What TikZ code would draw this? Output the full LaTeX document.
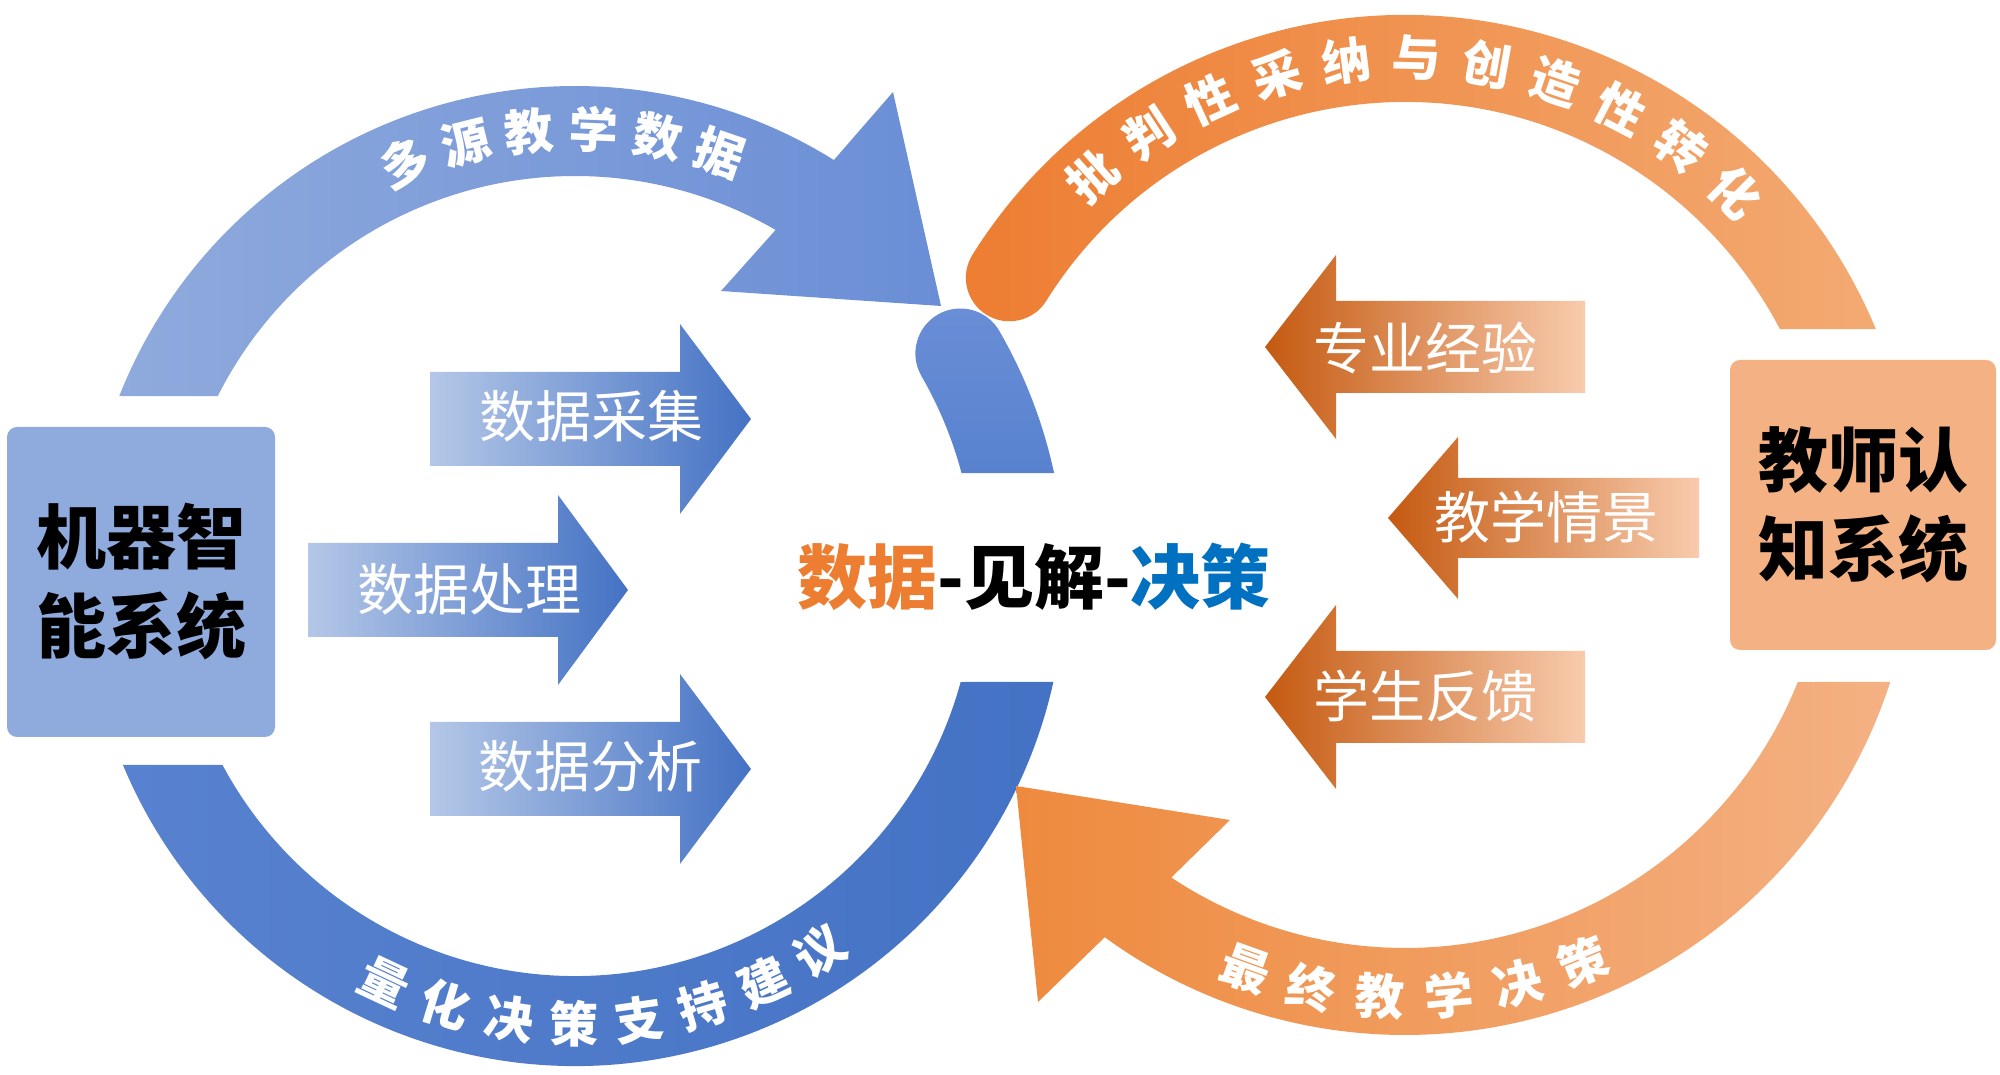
\documentclass[tikz,border=0pt]{standalone}
\usepackage{fontspec}
\setmainfont{Noto Sans CJK SC}
\usetikzlibrary{calc}
\definecolor{boxblue}{HTML}{8FAADC}
\definecolor{boxorange}{HTML}{F4B183}
\definecolor{bluA}{HTML}{8FAADC}
\definecolor{bluB}{HTML}{6A8ED6}
\definecolor{bluC}{HTML}{5882CF}
\definecolor{bluD}{HTML}{4472C4}
\definecolor{oraA}{HTML}{ED7D31}
\definecolor{oraB}{HTML}{F3AA72}
\definecolor{oraC}{HTML}{EE8A3E}
\definecolor{oraD}{HTML}{F4B183}
\definecolor{lblue}{HTML}{B4C7E7}
\definecolor{dorange}{HTML}{C55A11}
\definecolor{lpeach}{HTML}{F8CBAD}
\definecolor{ttlorange}{HTML}{ED7D31}
\definecolor{ttlblue}{HTML}{0070C0}
\begin{document}
\begin{tikzpicture}[x=1pt,y=1pt,
  arctext/.style={text=white,font=\fontsize{49}{49}\selectfont\bfseries,inner sep=0pt},
  arrtext/.style={text=white,font=\fontsize{56}{56}\selectfont,inner sep=0pt},
  sysbox/.style={rounded corners=10pt,align=center,font=\fontsize{70}{89}\selectfont\bfseries,text=black},
  blueflow/.style={left color=lblue,right color=bluD},
  orangeflow/.style={left color=dorange,right color=lpeach}]
\useasboundingbox (0,0) rectangle (2000,1075);
\coordinate (Cb) at (575,499);
\coordinate (Co) at (1405,550);

% blue upper arc with head
\shade[left color=bluA,right color=bluB]
  ([shift={(158.45:490pt)}]Cb) arc[start angle=158.45,end angle=58.1,radius=490pt]
  -- (893,983) -- (941,769) -- (721,784)
  -- ([shift={(59.9:400pt)}]Cb) arc[start angle=59.9,end angle=153.26,radius=400pt] -- cycle;
% blue lower arc
\shade[left color=bluC,right color=bluD]
  ([shift={(202.69:490pt)}]Cb) arc[start angle=202.69,end angle=347.51,radius=490pt]
  -- ([shift={(344.63:400pt)}]Cb) arc[start angle=344.63,end angle=208.2,radius=400pt] -- cycle;
% blue right piece
\shade[top color=bluB,bottom color=bluC]
  ([shift={(12.13:490pt)}]Cb) arc[start angle=12.13,end angle=30,radius=490pt]
  arc[start angle=30,end angle=210,radius=45pt]
  arc[start angle=30,end angle=14.92,radius=400pt] -- cycle;

% orange upper arc
\shade[left color=oraA,right color=oraB]
  ([shift={(22.6:510pt)}]Co) arc[start angle=22.6,end angle=148,radius=510pt]
  arc[start angle=148,end angle=328,radius=43.5pt]
  arc[start angle=148,end angle=27.6,radius=423pt] -- cycle;
% orange lower arc with head
\shade[left color=oraC,right color=oraD]
  ([shift={(342.07:510pt)}]Co) arc[start angle=342.07,end angle=233.93,radius=510pt]
  -- (1038,73) -- (1016,289) -- (1230,255)
  -- ([shift={(236.46:423pt)}]Co) arc[start angle=236.46,end angle=338.21,radius=423pt] -- cycle;

% straight blue arrows
\shade[blueflow] (430,703) -- (680,703) -- (680,751) -- (751,656) -- (680,561) -- (680,609) -- (430,609) -- cycle;
\shade[blueflow] (308,532) -- (558,532) -- (558,580) -- (628,485) -- (558,390) -- (558,438) -- (308,438) -- cycle;
\shade[blueflow] (430,353) -- (680,353) -- (680,401) -- (751,306) -- (680,211) -- (680,259) -- (430,259) -- cycle;
% straight orange arrows
\shade[orangeflow] (1585,774) -- (1336,774) -- (1336,820) -- (1265,728) -- (1336,636) -- (1336,682) -- (1585,682) -- cycle;
\shade[orangeflow] (1699,597) -- (1458,597) -- (1458,638) -- (1388,557) -- (1458,476) -- (1458,517) -- (1699,517) -- cycle;
\shade[orangeflow] (1585,424) -- (1336,424) -- (1336,470) -- (1265,378) -- (1336,286) -- (1336,332) -- (1585,332) -- cycle;

\node[arrtext] (t1) at (591,659) {数据采集};
\node[arrtext] (t2) at (469,486) {数据处理};
\node[arrtext] (t3) at (590,309) {数据分析};
\node[arrtext] (t4) at (1425,727) {专业经验};
\node[arrtext] (t5) at (1546,558) {教学情景};
\node[arrtext] (t6) at (1425,379) {学生反馈};

% boxes
\node[sysbox,fill=boxblue,minimum width=268pt,minimum height=310pt] (mis) at (141,493) {机器智\\能系统};
\node[sysbox,fill=boxorange,minimum width=266pt,minimum height=290pt] (tcs) at (1863,570) {教师认\\知系统};

% title
\node[font=\fontsize{70}{70}\selectfont\bfseries,inner sep=0pt] (title) at (1034,498)
  {\textcolor{ttlorange}{数据}-见解-\textcolor{ttlblue}{决策}};

% arc texts
\foreach \ch [count=\i, evaluate=\i as \a using 112.4-(\i-1)*8.26] in {多,源,教,学,数,据}
  \node[arctext,rotate=\a-90] (bu\i) at ([shift={(\a:447pt)}]Cb) {\ch};
\foreach \ch [count=\i, evaluate=\i as \a using 244.9+(\i-1)*8.33] in {量,化,决,策,支,持,建,议}
  \node[arctext,rotate=\a+90] (bl\i) at ([shift={(\a:448pt)}]Cb) {\ch};
\foreach \ch [count=\i, evaluate=\i as \a using 131.9-(\i-1)*8.67] in {批,判,性,采,纳,与,创,造,性,转,化}
  \node[arctext,rotate=\a-90] (ou\i) at ([shift={(\a:468pt)}]Co) {\ch};
\foreach \ch [count=\i, evaluate=\i as \a using 250.2+(\i-1)*8.4] in {最,终,教,学,决,策}
  \node[arctext,rotate=\a+90] (ol\i) at ([shift={(\a:472pt)}]Co) {\ch};
\end{tikzpicture}
\end{document}
